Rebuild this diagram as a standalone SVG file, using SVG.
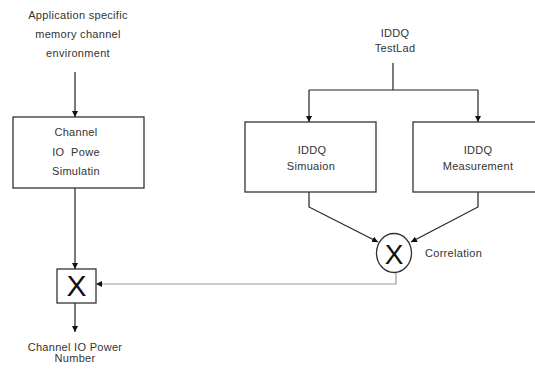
<svg xmlns="http://www.w3.org/2000/svg" width="535" height="369" viewBox="0 0 535 369">
<defs>
<style>
text{font-family:"Liberation Sans",Arial,sans-serif;font-size:11px;fill:#333;letter-spacing:0.3px}
.c{text-anchor:middle}
.big{font-size:30px;fill:#111;letter-spacing:0}
.box{fill:#fff;stroke:#333;stroke-width:1.3}
.ln{fill:none;stroke:#222;stroke-width:1.2}
.gl{fill:none;stroke:#999;stroke-width:1.2}
</style>
<marker id="ah" viewBox="0 0 10 10" refX="10" refY="5" markerWidth="6" markerHeight="6" orient="auto" markerUnits="userSpaceOnUse">
<path d="M0,0 L10,5 L0,10 z" fill="#111"/>
</marker>
</defs>
<rect width="535" height="369" fill="#fff"/>
<g id="connectors">
<path class="ln" d="M75,72 V117" marker-end="url(#ah)"/>
<path class="ln" d="M75,188 V269" marker-end="url(#ah)"/>
<path class="ln" d="M75,303 V332" marker-end="url(#ah)"/>
<path class="ln" d="M393,63 V90"/>
<path class="ln" d="M309,90 H478"/>
<path class="ln" d="M309,90 V122" marker-end="url(#ah)"/>
<path class="ln" d="M478,90 V122" marker-end="url(#ah)"/>
<path class="ln" d="M309,192 V207 L378,242" marker-end="url(#ah)"/>
<path class="ln" d="M478,192 V207 L411,242" marker-end="url(#ah)"/>
<path class="gl" d="M396,272 V284 H96" marker-end="url(#ah)"/>
</g>
<g id="env">
<text class="c" x="78" y="19">Application specific</text>
<text class="c" x="78" y="38">memory channel</text>
<text class="c" x="78" y="57">environment</text>
</g>
<g id="sim">
<rect class="box" x="13" y="117" width="131" height="71"/>
<text class="c" x="76" y="136">Channel</text>
<text class="c" x="76" y="156" xml:space="preserve">IO  Powe</text>
<text class="c" x="76" y="175">Simulatin</text>
</g>
<g id="mult">
<rect class="box" x="57" y="269" width="39" height="34"/>
<text class="c big" x="76.5" y="296">X</text>
</g>
<g id="out">
<text class="c" x="75" y="351">Channel IO Power</text>
<text class="c" x="75" y="362">Number</text>
</g>
<g id="testlab">
<text class="c" x="395" y="37">IDDQ</text>
<text class="c" x="395" y="52">TestLad</text>
</g>
<g id="iddqsim">
<rect class="box" x="245" y="122" width="131" height="70"/>
<text class="c" x="312" y="154">IDDQ</text>
<text class="c" x="311" y="170">Simuaion</text>
</g>
<g id="iddqmeas">
<rect class="box" x="413" y="122" width="132" height="70"/>
<text class="c" x="478" y="154">IDDQ</text>
<text class="c" x="478" y="170">Measurement</text>
</g>
<g id="corr">
<ellipse class="box" cx="394" cy="253" rx="17.5" ry="19.5"/>
<text class="c big" x="394" y="264" style="font-size:28px">X</text>
<text x="425" y="257">Correlation</text>
</g>
</svg>
